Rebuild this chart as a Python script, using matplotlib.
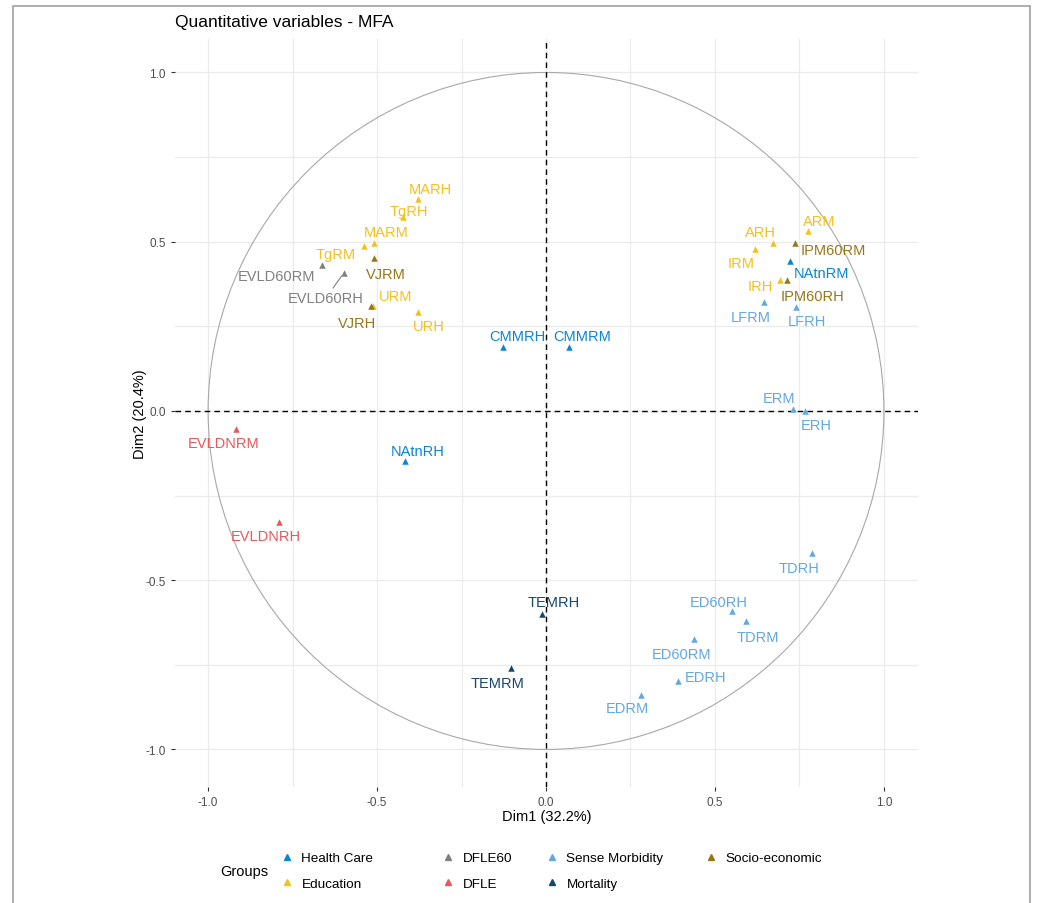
import matplotlib
matplotlib.use("Agg")
import matplotlib.pyplot as plt
from matplotlib.lines import Line2D
from matplotlib.patches import Circle, Rectangle

plt.rcParams['font.family'] = ['Liberation Sans', 'DejaVu Sans']

# groups, in legend order
grupos = ["Health Care", "Education", "DFLE60", "DFLE", "Sense Morbidity", "Mortality", "Socio-economic"]
colores = ["#0A86CF", "#F5C01E", "#808080", "#E8575A", "#63A8E0", "#17466E", "#957618"]

# variables: name, group, Dim1, Dim2
nombres = ["CMMRH", "CMMRM", "NAtnRH", "NAtnRM",
           "MARH", "MARM", "TgRH", "TgRM", "URH", "URM", "ARH", "ARM", "IRH", "IRM",
           "EVLD60RH", "EVLD60RM",
           "EVLDNRH", "EVLDNRM",
           "ERH", "ERM", "LFRH", "LFRM", "TDRH", "TDRM", "EDRH", "EDRM", "ED60RH", "ED60RM",
           "TEMRH", "TEMRM",
           "VJRH", "VJRM", "IPM60RH", "IPM60RM"]
grupoVar = ["Health Care"] * 4 + ["Education"] * 10 + ["DFLE60"] * 2 + ["DFLE"] * 2 + \
           ["Sense Morbidity"] * 10 + ["Mortality"] * 2 + ["Socio-economic"] * 4
dim1 = [-0.127, 0.068, -0.417, 0.722,
        -0.379, -0.509, -0.423, -0.538, -0.379, -0.512, 0.672, 0.775, 0.692, 0.618,
        -0.598, -0.663,
        -0.790, -0.917,
        0.766, 0.731, 0.740, 0.645, 0.787, 0.592, 0.391, 0.281, 0.550, 0.438,
        -0.012, -0.104,
        -0.518, -0.509, 0.713, 0.737]
dim2 = [0.189, 0.189, -0.148, 0.443,
        0.626, 0.496, 0.573, 0.487, 0.292, 0.310, 0.496, 0.532, 0.387, 0.478,
        0.408, 0.431,
        -0.328, -0.053,
        0.000, 0.006, 0.307, 0.322, -0.420, -0.620, -0.797, -0.839, -0.591, -0.673,
        -0.600, -0.759,
        0.310, 0.452, 0.387, 0.496]

# label offsets (pixels, label centre relative to point) - repel layout
desplaz = {
    "CMMRH": (14, 11), "CMMRM": (13, 11), "NAtnRH": (13, 10), "NAtnRM": (32, -12),
    "MARH": (12, 10), "MARM": (12, 11), "TgRH": (6, 6), "TgRM": (-29, -8),
    "URH": (11, -14), "URM": (23, 10), "ARH": (-13, 11), "ARM": (11, 10),
    "IRH": (-20, -6), "IRM": (-14, -14),
    "EVLD60RH": (-18, -25), "EVLD60RM": (-45, -11),
    "EVLDNRH": (-13, -14), "EVLDNRM": (-13, -14),
    "ERH": (11, -14), "ERM": (-14, 11), "LFRH": (11, -14), "LFRM": (-13, -15),
    "TDRH": (-13, -15), "TDRM": (12, -16), "EDRH": (27, 4), "EDRM": (-14, -13),
    "ED60RH": (-13, 9), "ED60RM": (-12, -15),
    "TEMRH": (12, 12), "TEMRM": (-13, -15),
    "VJRH": (-14, -17), "VJRM": (12, -16), "IPM60RH": (26, -16), "IPM60RM": (38, -7),
}

colorDe = dict(zip(grupos, colores))

fig = plt.figure(figsize=(10.38, 9.04), dpi=100)
ax = fig.add_axes([0.1686, 0.1283, 0.7158, 0.8275])

ax.set_xlim(-1.098, 1.101)
ax.set_ylim(-1.111, 1.099)

# grid (theme_minimal look)
for v in [-1.0, -0.75, -0.5, -0.25, 0.0, 0.25, 0.5, 0.75, 1.0]:
    ax.axvline(v, color="#EBEBEB", lw=0.9, zorder=0)
    ax.axhline(v, color="#EBEBEB", lw=0.9, zorder=0)

ax.add_patch(Circle((0, 0), 1.0, fill=False, edgecolor="#A8A8A8", lw=0.8, zorder=1))
ax.axhline(0, color="black", lw=1.0, ls=(0, (4, 3)), zorder=2)
ax.axvline(0, color="black", lw=1.0, ls=(0, (4, 3)), zorder=2)

for g in grupos:
    xs = [x for x, gg in zip(dim1, grupoVar) if gg == g]
    ys = [y for y, gg in zip(dim2, grupoVar) if gg == g]
    ax.scatter(xs, ys, marker="^", s=22, color=colorDe[g], linewidths=0, zorder=3)

for n, g, x, y in zip(nombres, grupoVar, dim1, dim2):
    dx, dy = desplaz[n]
    props = None
    if n == "EVLD60RH":
        props = dict(arrowstyle="-", color=colorDe[g], lw=0.8, shrinkA=0, shrinkB=3)
    ax.annotate(n, (x, y), xytext=(dx * 0.72, dy * 0.72), textcoords="offset points",
                ha="center", va="center", fontsize=10.5, color=colorDe[g],
                arrowprops=props, zorder=4)

ax.set_xticks([-1.0, -0.5, 0.0, 0.5, 1.0])
ax.set_yticks([-1.0, -0.5, 0.0, 0.5, 1.0])
ax.set_xticklabels(["-1.0", "-0.5", "0.0", "0.5", "1.0"])
ax.set_yticklabels(["-1.0", "-0.5", "0.0", "0.5", "1.0"])
ax.tick_params(labelsize=8.5, labelcolor="#4D4D4D", color="#333333", length=3, width=0.8)
for s in ax.spines.values():
    s.set_visible(False)

ax.set_xlabel("Dim1 (32.2%)", fontsize=10.5, labelpad=1)
ax.set_ylabel("Dim2 (20.4%)", fontsize=10.5, labelpad=-1)
ax.set_title("Quantitative variables - MFA", loc="left", fontsize=12.5, pad=9)

# legend, column by column like ggplot's layout
columnas = [[0, 1], [2, 3], [4, 5], [6]]
xMarcador = [287, 448, 552, 711]
for col, xm in zip(columnas, xMarcador):
    handles = [Line2D([], [], marker="^", ls="", color=colores[i], markersize=5) for i in col]
    etiquetas = [grupos[i] for i in col]
    fig.legend(handles, etiquetas, loc="upper left",
               bbox_to_anchor=((xm - 6.5) / 1038, 1 - 853 / 904),
               frameon=False, fontsize=9.7, handlelength=1.0, handletextpad=0.55,
               borderpad=0, borderaxespad=0, labelspacing=0.95)
fig.text(220 / 1038, 1 - 872 / 904, "Groups", fontsize=10.5, va="center", ha="left")

fig.add_artist(Rectangle((13 / 1038, -0.01), 1017 / 1038, 1.01 - 7 / 904,
                         transform=fig.transFigure, fill=False, edgecolor="#A0A0A0", lw=1.2))

plt.savefig("out.png", dpi=100)
